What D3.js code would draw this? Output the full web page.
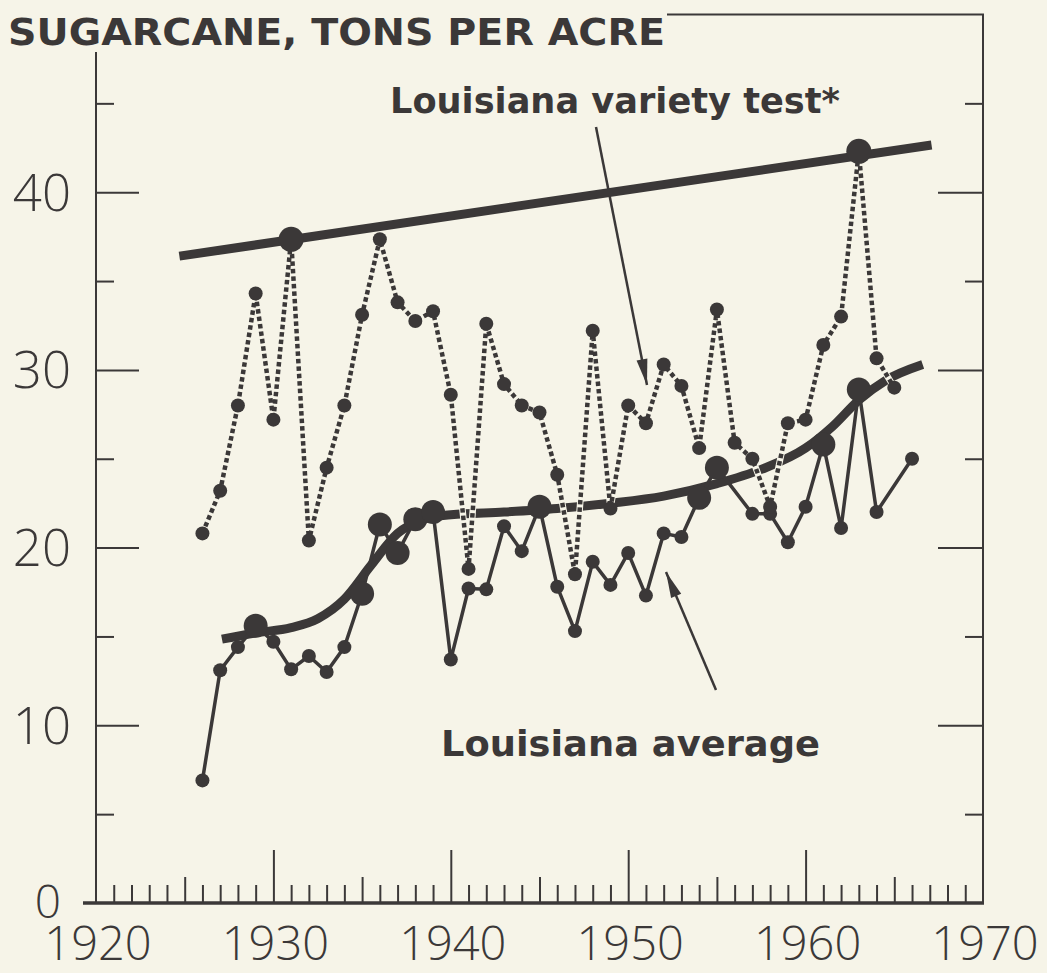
<!DOCTYPE html>
<html><head><meta charset="utf-8">
<script src="https://cdn.jsdelivr.net/npm/d3@7"></script>
<style>body{margin:0;background:#f6f4e9;} svg{display:block}</style>
</head><body><svg id="c" width="1047" height="973"></svg>
<script>
// ---- data ----
const varietyYears  = [1926,1927,1928,1929,1930,1931,1932,1933,1934,1935,1936,1937,1938,1939,1940,1941,1942,1943,1944,1945,1946,1947,1948,1949,1950,1951,1952,1953,1954,1955,1956,1957,1958,1959,1960,1961,1962,1963,1964,1965];
const varietyValues = [20.8,23.2,28.0,34.3,27.2,37.35,20.4,24.5,28.0,33.1,37.35,33.8,32.75,33.3,28.6,18.8,32.6,29.2,28.0,27.6,24.1,18.5,32.2,22.2,28.0,27.0,30.3,29.1,25.6,33.4,25.9,25.0,22.3,27.0,27.2,31.4,33.0,42.3,30.65,29.0];
const varietyBig    = [1931,1963];

const averageYears  = [1926,1927,1928,1929,1930,1931,1932,1933,1934,1935,1936,1937,1938,1939,1940,1941,1942,1943,1944,1945,1946,1947,1948,1949,1950,1951,1952,1953,1954,1955,1957,1958,1959,1960,1961,1962,1963,1964,1966];
const averageValues = [6.9,13.1,14.4,15.6,14.7,13.15,13.9,13.0,14.4,17.4,21.3,19.7,21.6,22.0,13.7,17.7,17.65,21.2,19.8,22.3,17.8,15.3,19.2,17.9,19.7,17.3,20.8,20.6,22.8,24.5,21.9,21.9,20.3,22.3,25.8,21.1,28.9,22.0,25.0];
const averageBig    = [1929,1935,1936,1937,1938,1939,1945,1954,1955,1961,1963];

const envelopeYears  = [1924.7,1967.1];
const envelopeValues = [36.4,42.66];

const trendYears  = [1927.1,1929,1931,1932.5,1934,1935.5,1937,1938.5,1940,1943,1946,1949,1952,1955,1957.5,1960,1961.5,1963,1964.5,1966.6];
const trendValues = [14.85,15.2,15.5,16.0,17.1,19.0,20.8,21.6,21.85,22.0,22.2,22.5,22.9,23.6,24.4,25.6,26.8,28.3,29.4,30.3];

const yMajorTicks = [10,20,30,40];
const yMinorTicks = [5,15,25,35,45];
const yLabels = ["0","10","20","30","40"];
const xLabels = ["1920","1930","1940","1950","1960","1970"];
const xMajorTicks = [1930,1940,1950,1960];
const xMidTicks = [1925,1935,1945,1955,1965];
const xMinorTicks = [1921,1922,1923,1924,1926,1927,1928,1929,1931,1932,1933,1934,1936,1937,1938,1939,1941,1942,1943,1944,1946,1947,1948,1949,1951,1952,1953,1954,1956,1957,1958,1959,1961,1962,1963,1964,1966,1967,1968,1969];

const title = "SUGARCANE, TONS PER ACRE";
const label1 = "Louisiana variety test*";
const label2 = "Louisiana average";

// ---- drawing ----
const ink = "#3b3838", bg = "#f6f4e8";
const svg = d3.select("#c");
svg.append("rect").attr("width",1047).attr("height",973).attr("fill",bg);

const x = d3.scaleLinear().domain([1920,1970]).range([96,983]);
const y = d3.scaleLinear().domain([0,50]).range([903,14.5]);

// frame
svg.append("line").attr("x1",x(1920)).attr("x2",x(1920)).attr("y1",y(0)).attr("y2",52).attr("stroke",ink).attr("stroke-width",2);
svg.append("line").attr("x1",x(1970)).attr("x2",x(1970)).attr("y1",y(0)).attr("y2",y(50)).attr("stroke",ink).attr("stroke-width",2);
svg.append("line").attr("x1",667).attr("x2",x(1970)+1).attr("y1",y(50)).attr("y2",y(50)).attr("stroke",ink).attr("stroke-width",2);
svg.append("line").attr("x1",83).attr("x2",x(1970)+1).attr("y1",y(0)).attr("y2",y(0)).attr("stroke",ink).attr("stroke-width",3.5);

function styleAxis(g){ g.select(".domain").remove(); g.selectAll("line").attr("stroke",ink).attr("stroke-width",2); g.selectAll("text").remove(); }
const L = svg.append("g").attr("transform",`translate(${x(1920)},0)`);
L.append("g").call(d3.axisRight(y).tickValues(yMinorTicks).tickSize(18)).call(styleAxis);
L.append("g").call(d3.axisRight(y).tickValues(yMajorTicks).tickSize(43)).call(styleAxis);
const R = svg.append("g").attr("transform",`translate(${x(1970)},0)`);
R.append("g").call(d3.axisLeft(y).tickValues(yMinorTicks).tickSize(18)).call(styleAxis);
R.append("g").call(d3.axisLeft(y).tickValues(yMajorTicks).tickSize(45)).call(styleAxis);
const B = svg.append("g").attr("transform",`translate(0,${y(0)})`);
B.append("g").call(d3.axisTop(x).tickValues(xMinorTicks).tickSize(18)).call(styleAxis);
B.append("g").call(d3.axisTop(x).tickValues(xMidTicks).tickSize(26)).call(styleAxis);
B.append("g").call(d3.axisTop(x).tickValues(xMajorTicks).tickSize(53)).call(styleAxis);

// tick labels
const numFont = "'Open Sans', 'Noto Sans', sans-serif";
svg.append("g").selectAll("text").data(yLabels).join("text")
  .attr("x",d=>d==="0"?61:71).attr("y",d=>d==="0"?y(0)-2:y(+d)).attr("dy","0.36em")
  .attr("text-anchor","end").attr("font-family",numFont).attr("font-weight",300)
  .attr("font-size",d=>d==="0"?46:51).attr("fill",ink).text(d=>d);
svg.append("g").selectAll("text").data(xLabels).join("text")
  .attr("x",d=>x(+d)+2).attr("y",960)
  .attr("text-anchor","middle").attr("font-family",numFont).attr("font-weight",300)
  .attr("font-size",47).attr("fill",ink).text(d=>d);

// title & labels
const boldFont = "'DejaVu Sans', sans-serif";
svg.append("text").attr("x",8).attr("y",45).attr("font-family",boldFont).attr("font-weight","bold")
  .attr("font-size",38).attr("fill",ink).attr("textLength",657).attr("lengthAdjust","spacingAndGlyphs").text(title);
svg.append("text").attr("x",390).attr("y",113).attr("font-family",boldFont).attr("font-weight","bold")
  .attr("font-size",35).attr("fill",ink).attr("textLength",450).attr("lengthAdjust","spacingAndGlyphs").text(label1);
svg.append("text").attr("x",441).attr("y",756).attr("font-family",boldFont).attr("font-weight","bold")
  .attr("font-size",35).attr("fill",ink).attr("textLength",379).attr("lengthAdjust","spacingAndGlyphs").text(label2);

// arrows
function arrow(x1,y1,x2,y2){
  svg.append("line").attr("x1",x1).attr("y1",y1).attr("x2",x2).attr("y2",y2).attr("stroke",ink).attr("stroke-width",2.5);
  const a = Math.atan2(y2-y1,x2-x1), len=26, w=5.5;
  const bx = x2-len*Math.cos(a), by = y2-len*Math.sin(a);
  const px = -Math.sin(a)*w, py = Math.cos(a)*w;
  svg.append("path").attr("d",`M${x2},${y2}L${bx+px},${by+py}L${bx-px},${by-py}Z`).attr("fill",ink);
}
arrow(596,127,647,385);
arrow(716,690,666,572);

// trend lines
const env = envelopeYears.map((d,i)=>[d,envelopeValues[i]]);
svg.append("path").attr("d",d3.line().x(d=>x(d[0])).y(d=>y(d[1]))(env))
  .attr("fill","none").attr("stroke",ink).attr("stroke-width",9);
const tr = trendYears.map((d,i)=>[d,trendValues[i]]);
svg.append("path").attr("d",d3.line().curve(d3.curveMonotoneX).x(d=>x(d[0])).y(d=>y(d[1]))(tr))
  .attr("fill","none").attr("stroke",ink).attr("stroke-width",9);

// variety dotted line
const vdat = varietyYears.map((d,i)=>({year:d,value:varietyValues[i]}));
const adat = averageYears.map((d,i)=>({year:d,value:averageValues[i]}));
const line = d3.line().x(d=>x(d.year)).y(d=>y(d.value));
svg.append("path").attr("d",line(vdat)).attr("fill","none").attr("stroke",bg).attr("stroke-width",6.5);
svg.append("path").attr("d",line(vdat)).attr("fill","none").attr("stroke",ink).attr("stroke-width",4.5).attr("stroke-dasharray","4.5,3");

// average line
svg.append("path").attr("d",line(adat)).attr("fill","none").attr("stroke",ink).attr("stroke-width",3.5).attr("stroke-linejoin","round");
svg.append("g").selectAll("circle").data(adat).join("circle")
  .attr("cx",d=>x(d.year)).attr("cy",d=>y(d.value)).attr("r",d=>averageBig.includes(d.year)?12:7).attr("fill",ink);
svg.append("g").selectAll("circle").data(vdat).join("circle")
  .attr("cx",d=>x(d.year)).attr("cy",d=>y(d.value)).attr("r",d=>varietyBig.includes(d.year)?12.5:7).attr("fill",ink);
</script></body></html>
